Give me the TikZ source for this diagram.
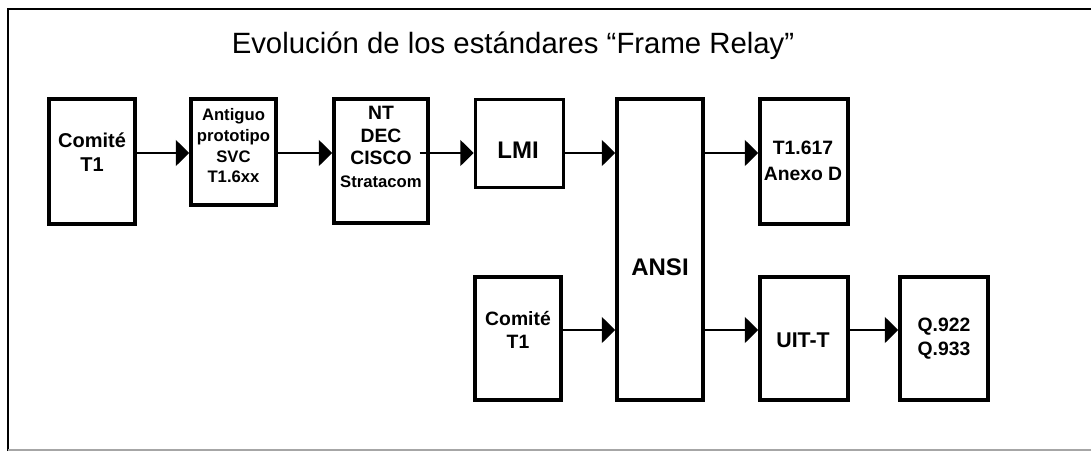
\documentclass[tikz,border=0pt]{standalone}
\usepackage{fontspec}
\setmainfont{Liberation Sans}
\usetikzlibrary{arrows.meta}
\usetikzlibrary{calc}
\tikzset{
    box/.style 2 args={draw=black, line width=2.6pt, minimum width=#1, minimum height=#2, inner sep=0pt},
    boxtext/.style={align=center, inner sep=0pt, font=\bfseries\fontsize{13.5}{16}\selectfont},
    link/.style={line width=2.2pt, -{Triangle[length=10pt, width=19pt]}},
}

\begin{document}
\begin{tikzpicture}[x=0.75pt, y=-0.75pt]
    \useasboundingbox (0,0) rectangle (1091,451);
    % frame
    \draw [line width=1.8pt] (8,451) -- (8,9) -- (1092,9);
    \draw [line width=1pt, draw=black!35] (8,450) -- (1092,450);
    \node (title) at (513,46) {\fontsize{22}{25}\selectfont Evolución de los estándares “Frame Relay”};
    % first row
    \coordinate (row1) at (0,153);
    \node [box={64.5pt}{93.75pt}] (c1) at (92,161.5) {};
    \node [box={63.75pt}{79.5pt}] (ant) at (233.5,152) {};
    \node [box={70.5pt}{93pt}] (nt) at (381,161) {};
    \node [box={66pt}{66pt}] (lmi) at (519.5,143.5) {};
    \node [box={64.5pt}{226pt}] (ansi) at (660,249.5) {};
    \node [box={66pt}{93.75pt}] (t1617) at (804,161.5) {};
    \node [boxtext, font=\bfseries\fontsize{15}{17.5}\selectfont] (c1txt) at (92,152) {Comité\\T1};
    \node [boxtext, font=\bfseries\fontsize{12.5}{15.5}\selectfont] (anttxt) at (233.5,146) {Antiguo\\prototipo\\SVC\\T1.6xx};
    \node [boxtext, font=\bfseries\fontsize{14.5}{17}\selectfont] (nttxt) at (381,147) {NT\\DEC\\CISCO\\{\fontsize{12.5}{17}\selectfont Stratacom}};
    \node [boxtext, font=\bfseries\fontsize{18}{20}\selectfont] (lmitxt) at (518,150) {LMI};
    \node [boxtext, font=\bfseries\fontsize{18}{20}\selectfont] (ansitxt) at (660,267) {ANSI};
    \node [boxtext, font=\bfseries\fontsize{14.5}{19}\selectfont] (t1617txt) at (803,161) {T1.617\\Anexo D};
    % second row
    \coordinate (row2) at (0,330);
    \node [box={64.5pt}{92.25pt}] (c2) at (518,338.5) {};
    \node [box={66pt}{92.25pt}] (uit) at (804,338.5) {};
    \node [box={66pt}{92.25pt}] (q) at (944,338.5) {};
    \node [boxtext, font=\bfseries\fontsize{14.5}{17}\selectfont] (c2txt) at (518,330) {Comité\\T1};
    \node [boxtext, font=\bfseries\fontsize{16}{18}\selectfont] (uittxt) at (803,340) {UIT-T};
    \node [boxtext, font=\bfseries\fontsize{14.5}{18}\selectfont] (qtxt) at (944,339) {Q.922\\Q.933};
    % arrows
    \draw [link] (c1.east |- row1) -- (ant.west |- row1);
    \draw [link] (ant.east |- row1) -- (nt.west |- row1);
    \draw [link] ($(nt.east |- row1)+(-10,0)$) -- (lmi.west |- row1);
    \draw [link] (lmi.east |- row1) -- (ansi.west |- row1);
    \draw [link] (ansi.east |- row1) -- (t1617.west |- row1);
    \draw [link] (c2.east |- row2) -- (ansi.west |- row2);
    \draw [link] (ansi.east |- row2) -- (uit.west |- row2);
    \draw [link] (uit.east |- row2) -- (q.west |- row2);
\end{tikzpicture}
\end{document}
